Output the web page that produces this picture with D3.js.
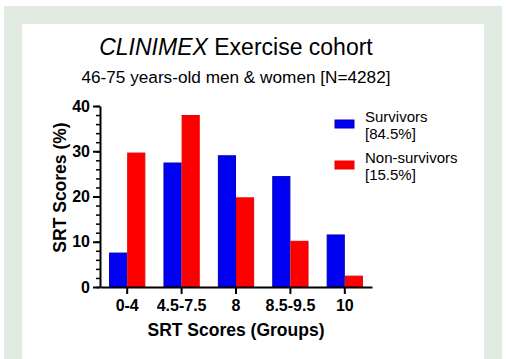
<!DOCTYPE html>
<html>
<head>
<meta charset="utf-8">
<script src="https://cdn.jsdelivr.net/npm/d3@7"></script>
<style>
  html, body { margin: 0; padding: 0; background: #ffffff; }
  svg { display: block; }
  text { font-family: "Liberation Sans", Arial, Helvetica, sans-serif; fill: #000; }
</style>
</head>
<body>
<svg id="chart" width="506" height="359"></svg>
<script>
const categories = ["0-4", "4.5-7.5", "8", "8.5-9.5", "10"];
const seriesNames = ["Survivors", "Non-survivors"];
const seriesShares = ["[84.5%]", "[15.5%]"];
const survivors = [7.5, 27.4, 29.0, 24.4, 11.5];
const nonSurvivors = [29.6, 37.9, 19.7, 10.1, 2.4];
const yTicks = [0, 10, 20, 30, 40];
const yMinorTicks = d3.range(0, 41, 2);
const titleItalic = "CLINIMEX";
const titleRest = " Exercise cohort";
const subtitle = "46-75 years-old men & women [N=4282]";
const yTitle = "SRT Scores (%)";
const xTitle = "SRT Scores (Groups)";

const colors = ["#0000f2", "#ff0000"];
const strokes = ["#0000b8", "#e80000"];

const svg = d3.select("#chart");

// frame
svg.append("rect").attr("x", 4).attr("y", 6).attr("width", 498).attr("height", 360).attr("fill", "#e1ebe2");
svg.append("rect").attr("x", 22).attr("y", 24).attr("width", 462).attr("height", 360).attr("fill", "#ffffff");

const pLeft = 100, pRight = 372, pTop = 106, pBottom = 287;

const x0 = d3.scaleBand().domain(categories).range([pLeft, pRight]).paddingInner(1/3).paddingOuter(1/6);
const x1 = d3.scaleBand().domain([0, 1]).range([0, x0.bandwidth()]).padding(0);
const y = d3.scaleLinear().domain([0, 40]).range([pBottom, pTop]);

const data = categories.map((c, i) => ({ cat: c, vals: [survivors[i], nonSurvivors[i]] }));

// bars
const g = svg.append("g");
g.selectAll("g.grp").data(data).join("g")
  .attr("transform", d => `translate(${x0(d.cat)},0)`)
  .selectAll("rect").data(d => d.vals.map((v, k) => ({ v, k }))).join("rect")
  .attr("x", d => x1(d.k) + 0.5)
  .attr("width", x1.bandwidth() - 1)
  .attr("y", d => y(d.v))
  .attr("height", d => y(0) - y(d.v))
  .attr("fill", d => colors[d.k])
  .attr("stroke", d => strokes[d.k])
  .attr("stroke-width", 1);

// y axis minor ticks
const yAxisG = svg.append("g").attr("transform", `translate(${pLeft},0)`);
yAxisG.call(d3.axisLeft(y).tickValues(yMinorTicks).tickSize(4).tickFormat(""))
  .call(s => s.select(".domain").remove())
  .selectAll("line").attr("stroke", "#000").attr("stroke-width", 1.5);
const yMajor = svg.append("g").attr("transform", `translate(${pLeft},0)`)
  .call(d3.axisLeft(y).tickValues(yTicks).tickSize(7).tickSizeOuter(0).tickPadding(3));
yMajor.select(".domain").attr("stroke", "#000").attr("stroke-width", 2);
yMajor.selectAll("line").attr("stroke", "#000").attr("stroke-width", 2);
yMajor.selectAll("text").style("font-size", "16px").style("font-weight", "bold")
  .style("font-family", "'Liberation Sans', Arial, sans-serif").attr("fill", "#000");

// x axis
const xAxis = svg.append("g").attr("transform", `translate(0,${pBottom})`)
  .call(d3.axisBottom(x0).tickSize(7).tickSizeOuter(0).tickPadding(6));
xAxis.select(".domain").attr("stroke", "#000").attr("stroke-width", 2);
xAxis.selectAll("line").attr("stroke", "#000").attr("stroke-width", 2);
xAxis.selectAll("text").style("font-size", "16px").style("font-weight", "bold")
  .style("font-family", "'Liberation Sans', Arial, sans-serif").attr("fill", "#000");

// titles
const t = svg.append("text").attr("x", 236).attr("y", 55).attr("text-anchor", "middle").style("font-size", "23px");
t.append("tspan").style("font-style", "italic").text(titleItalic);
t.append("tspan").text(titleRest);
svg.append("text").attr("x", 236).attr("y", 83).attr("text-anchor", "middle").style("font-size", "17.2px").text(subtitle);

svg.append("text").attr("x", 236).attr("y", 336).attr("text-anchor", "middle")
  .style("font-size", "17.5px").style("font-weight", "bold").text(xTitle);
svg.append("text").attr("transform", `translate(66,${(pTop + pBottom) / 2 - 9}) rotate(-90)`).attr("text-anchor", "middle")
  .style("font-size", "17.5px").style("font-weight", "bold").text(yTitle);

// legend
const leg = svg.append("g");
seriesNames.forEach((name, i) => {
  const gy = 111 + i * 41;
  leg.append("rect").attr("x", 335).attr("y", gy + 9).attr("width", 19).attr("height", 8)
    .attr("fill", colors[i]).attr("stroke", strokes[i]).attr("stroke-width", 1);
  leg.append("text").attr("x", 365).attr("y", gy + 11).style("font-size", "15px").text(name);
  leg.append("text").attr("x", 365).attr("y", gy + 28).style("font-size", "15px").text(seriesShares[i]);
});
</script>
</body>
</html>
